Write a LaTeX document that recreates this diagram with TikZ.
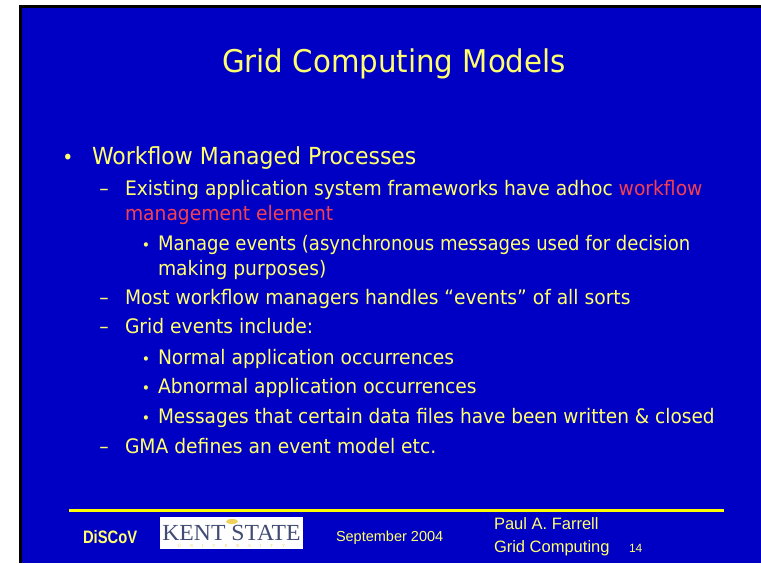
\documentclass[tikz,border=0pt]{standalone}
\usepackage{fontspec}
\setmainfont{DejaVu Sans}[FakeStretch=0.935]
\newfontfamily\arialfont{Liberation Sans}
\newfontfamily\seriffont{Liberation Serif}
\definecolor{slideblue}{RGB}{0,0,196}
\definecolor{txtyellow}{RGB}{255,255,110}
\definecolor{lineyellow}{RGB}{255,255,0}
\definecolor{hired}{RGB}{245,64,80}
\definecolor{logoblue}{RGB}{65,75,115}
\definecolor{logogold}{RGB}{240,210,90}
\begin{document}
\begin{tikzpicture}[x=1pt,y=-1pt,
  txt/.style={inner sep=0pt, outer sep=0pt, text=txtyellow},
  titletext/.style={txt, anchor=base, font=\fontsize{31.3}{36}\selectfont},
  levelone/.style={txt, anchor=base west, font=\fontsize{23.5}{28}\selectfont},
  leveltwo/.style={txt, anchor=base west, font=\fontsize{20}{24}\selectfont},
  dotone/.style={txt, anchor=base, font=\fontsize{20}{24}\selectfont},
  dotthree/.style={txt, anchor=base, font=\fontsize{15}{18}\selectfont},
  foot/.style={txt, anchor=base west, font=\arialfont\fontsize{15}{18}\selectfont},
]
\useasboundingbox (0,0) rectangle (761,563);
\fill[white] (0,0) rectangle (761,563);
\fill[black] (19,5) rectangle (761,563);
\fill[slideblue] (22,8) rectangle (761,563);

% title
\node[titletext] (title) at (394,72) {Grid Computing Models};

% level 1
\node[dotone] (b1) at (68,164) {•};
\node[levelone] (l1) at (92,164) {Workflow Managed Processes};

% level 2 / 3
\node[leveltwo, anchor=base] (d1) at (104,195) {–};
\node[leveltwo] (l2a) at (125,195) {Existing application system frameworks have adhoc \textcolor{hired}{workflow}};
\node[leveltwo] (l2b) at (125,220) {\textcolor{hired}{management element}};

\node[dotthree] (b2) at (146,250) {•};
\node[leveltwo, xscale=0.965] (l3a) at (158,250) {Manage events (asynchronous messages used for decision};
\node[leveltwo] (l3b) at (158,275) {making purposes)};

\node[leveltwo, anchor=base] (d2) at (104,304) {–};
\node[leveltwo] (l2c) at (125,304) {Most workflow managers handles “events” of all sorts};

\node[leveltwo, anchor=base] (d3) at (104,333) {–};
\node[leveltwo] (l2d) at (125,333) {Grid events include:};

\node[dotthree] (b3) at (146,364) {•};
\node[leveltwo] (l3c) at (158,364) {Normal application occurrences};
\node[dotthree] (b4) at (146,393) {•};
\node[leveltwo] (l3d) at (158,393) {Abnormal application occurrences};
\node[dotthree] (b5) at (146,423) {•};
\node[leveltwo, xscale=0.99] (l3e) at (158,423) {Messages that certain data files have been written \& closed};

\node[leveltwo, anchor=base] (d4) at (104,453) {–};
\node[leveltwo] (l2e) at (125,453) {GMA defines an event model etc.};

% footer
\draw[lineyellow, line width=3pt] (69,510) -- (724,510);
\node[foot, font=\arialfont\bfseries\fontsize{18}{20}\selectfont, xscale=0.82] (disc) at (83,543) {DiSCoV};

\fill[white] (160,517) rectangle (303,549);
\fill[logogold] (232,521.5) ellipse [x radius=6, y radius=2.5];
\node[inner sep=0pt, anchor=base, text=logoblue, font=\seriffont\fontsize{23}{24}\selectfont, xscale=1.03] (kent) at (231.5,540) {KENT STATE};
\node[inner sep=0pt, anchor=base, text=logogold, font=\seriffont\fontsize{4.5}{5}\selectfont] (univ) at (231.5,547) {U\hspace{9pt}N\hspace{9pt}I\hspace{9pt}V\hspace{9pt}E\hspace{9pt}R\hspace{9pt}S\hspace{9pt}I\hspace{9pt}T\hspace{9pt}Y};

\node[foot, font=\arialfont\fontsize{14.5}{18}\selectfont] (date) at (336,541) {September 2004};
\node[foot, font=\arialfont\fontsize{16.5}{18}\selectfont] (auth) at (494,529) {Paul A. Farrell};
\node[foot, font=\arialfont\fontsize{16.5}{18}\selectfont] (course) at (494,552) {Grid Computing};
\node[foot, font=\arialfont\fontsize{12}{14}\selectfont] (page) at (629,552) {14};
\end{tikzpicture}
\end{document}
